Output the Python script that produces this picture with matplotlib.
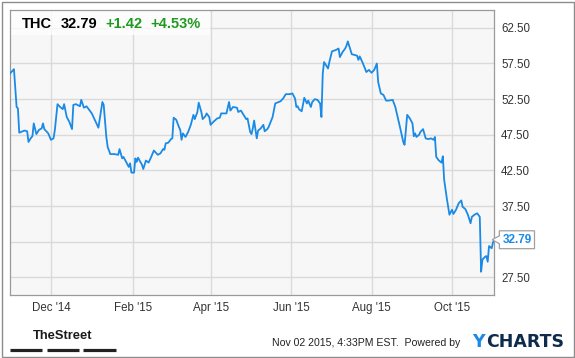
import matplotlib
matplotlib.use('Agg')
import matplotlib.pyplot as plt
from matplotlib.patches import Rectangle
from matplotlib.lines import Line2D
from matplotlib.path import Path
import pandas as pd

plt.rcParams['font.family'] = ['Liberation Sans', 'DejaVu Sans']

ticker = 'THC'
last_price = '32.79'
change = '+1.42'
change_pct = '+4.53%'
stamp = 'Nov 02 2015, 4:33PM EST.  Powered by'

# daily closes
dates = [
    '2014-10-31', '2014-11-03', '2014-11-05', '2014-11-06', '2014-11-07', '2014-11-11', '2014-11-13',
    '2014-11-14', '2014-11-16', '2014-11-17', '2014-11-18', '2014-11-20', '2014-11-22', '2014-11-24',
    '2014-11-25', '2014-11-26', '2014-11-29', '2014-12-01', '2014-12-03', '2014-12-04', '2014-12-06',
    '2014-12-08', '2014-12-10', '2014-12-11', '2014-12-13', '2014-12-15', '2014-12-17', '2014-12-18',
    '2014-12-20', '2014-12-23', '2014-12-24', '2014-12-26', '2014-12-28', '2014-12-30', '2015-01-01',
    '2015-01-03', '2015-01-06', '2015-01-09', '2015-01-10', '2015-01-12', '2015-01-13', '2015-01-15',
    '2015-01-18', '2015-01-21', '2015-01-22', '2015-01-24', '2015-01-25', '2015-01-27', '2015-01-29',
    '2015-01-30', '2015-01-31', '2015-02-02', '2015-02-03', '2015-02-04', '2015-02-05', '2015-02-08',
    '2015-02-09', '2015-02-11', '2015-02-13', '2015-02-15', '2015-02-17', '2015-02-20', '2015-02-22',
    '2015-02-24', '2015-02-25', '2015-02-26', '2015-02-28', '2015-03-02', '2015-03-03', '2015-03-04',
    '2015-03-06', '2015-03-08', '2015-03-09', '2015-03-10', '2015-03-11', '2015-03-13', '2015-03-15',
    '2015-03-17', '2015-03-19', '2015-03-20', '2015-03-22', '2015-03-23', '2015-03-25', '2015-03-26',
    '2015-03-28', '2015-03-29', '2015-03-31', '2015-04-01', '2015-04-03', '2015-04-06', '2015-04-08',
    '2015-04-09', '2015-04-13', '2015-04-15', '2015-04-16', '2015-04-18', '2015-04-21', '2015-04-22',
    '2015-04-24', '2015-04-26', '2015-04-28', '2015-04-29', '2015-05-01', '2015-05-02', '2015-05-03',
    '2015-05-04', '2015-05-06', '2015-05-07', '2015-05-09', '2015-05-11', '2015-05-12', '2015-05-14',
    '2015-05-15', '2015-05-18', '2015-05-20', '2015-05-24', '2015-05-26', '2015-05-28', '2015-05-31',
    '2015-06-02', '2015-06-04', '2015-06-05', '2015-06-06', '2015-06-07', '2015-06-09', '2015-06-10',
    '2015-06-11', '2015-06-13', '2015-06-14', '2015-06-16', '2015-06-17', '2015-06-19', '2015-06-21',
    '2015-06-23', '2015-06-24', '2015-06-25', '2015-06-26', '2015-06-28', '2015-06-29', '2015-06-30',
    '2015-07-02', '2015-07-05', '2015-07-07', '2015-07-08', '2015-07-10', '2015-07-12', '2015-07-13',
    '2015-07-14', '2015-07-16', '2015-07-17', '2015-07-19', '2015-07-21', '2015-07-22', '2015-07-23',
    '2015-07-25', '2015-07-27', '2015-07-28', '2015-07-30', '2015-08-01', '2015-08-03', '2015-08-05',
    '2015-08-06', '2015-08-08', '2015-08-10', '2015-08-12', '2015-08-14', '2015-08-17', '2015-08-19',
    '2015-08-21', '2015-08-23', '2015-08-25', '2015-08-26', '2015-08-28', '2015-08-30', '2015-09-01',
    '2015-09-02', '2015-09-03', '2015-09-04', '2015-09-06', '2015-09-07', '2015-09-09', '2015-09-11',
    '2015-09-13', '2015-09-15', '2015-09-17', '2015-09-18', '2015-09-19', '2015-09-21', '2015-09-23',
    '2015-09-24', '2015-09-25', '2015-09-27', '2015-09-29', '2015-10-01', '2015-10-02', '2015-10-04',
    '2015-10-06', '2015-10-08', '2015-10-09', '2015-10-11', '2015-10-13', '2015-10-15', '2015-10-16',
    '2015-10-18', '2015-10-20', '2015-10-22', '2015-10-23', '2015-10-24', '2015-10-26', '2015-10-27',
    '2015-10-28', '2015-10-29', '2015-10-31', '2015-11-01', '2015-11-02',
]
prices = [
    56.1, 56.7, 51.4, 51.2, 47.8, 48.1, 48.0,
    46.5, 47.1, 47.3, 49.1, 47.6, 48.2, 48.4,
    49.1, 48.3, 47.7, 46.8, 47.0, 48.2, 51.8,
    51.4, 51.1, 51.8, 50.0, 49.3, 48.3, 51.7,
    51.8, 51.5, 52.4, 51.3, 51.5, 51.0, 50.5,
    49.7, 48.5, 52.1, 51.7, 47.2, 45.8, 44.8,
    44.8, 44.7, 45.5, 44.2, 44.4, 43.7, 43.0,
    43.5, 42.2, 42.2, 44.2, 43.7, 44.3, 43.3,
    42.7, 43.9, 43.6, 44.4, 45.3, 44.7, 44.9,
    45.5, 45.4, 46.3, 46.4, 46.9, 47.0, 49.9,
    49.6, 48.6, 48.2, 46.8, 47.7, 47.2, 47.9,
    48.9, 50.3, 49.7, 50.7, 52.0, 50.7, 49.7,
    50.1, 50.5, 50.0, 48.9, 49.3, 49.8, 49.9,
    50.5, 50.5, 52.1, 50.9, 51.4, 51.3, 50.7,
    50.9, 50.3, 49.7, 49.8, 47.9, 47.6, 48.4,
    49.5, 47.0, 48.1, 48.4, 48.9, 48.0, 48.3,
    48.6, 50.0, 51.9, 52.2, 52.6, 53.2, 53.2,
    53.3, 52.6, 51.4, 51.5, 51.1, 50.8, 51.7,
    52.7, 51.9, 52.3, 51.4, 52.1, 52.5, 52.4,
    51.9, 50.0, 56.1, 57.7, 57.1, 56.8, 57.7,
    59.2, 59.4, 59.6, 58.4, 59.1, 59.6, 60.0,
    60.6, 59.4, 58.8, 58.7, 58.6, 58.0, 58.5,
    57.7, 56.8, 56.3, 56.6, 56.2, 56.6, 57.5,
    54.9, 53.3, 53.1, 52.3, 52.3, 52.4, 51.4,
    49.8, 48.2, 46.5, 46.1, 50.3, 49.8, 49.1,
    47.3, 47.7, 47.2, 47.5, 47.9, 48.3, 47.0,
    46.9, 47.0, 46.8, 47.2, 44.4, 43.9, 43.6,
    44.5, 41.2, 38.6, 36.3, 37.0, 36.4, 37.0,
    37.9, 38.3, 37.4, 37.1, 36.3, 35.1, 36.0,
    36.3, 36.5, 36.0, 28.3, 30.0, 30.4, 30.5,
    29.7, 31.9, 31.6, 32.4, 32.79,
]

y_ticks = [27.5, 32.5, 37.5, 42.5, 47.5, 52.5, 57.5, 62.5]
x_ticks = ['2014-12-01', '2015-02-01', '2015-04-01', '2015-06-01', '2015-08-01', '2015-10-01']
x_tick_labels = ["Dec '14", "Feb '15", "Apr '15", "Jun '15", "Aug '15", "Oct '15"]

LINE = '#1a8ae6'
GREEN = '#1f9a1f'
W, H = 575, 358


def px(x, y):
    # pixel position -> figure fraction
    return x / W, 1 - y / H


def tag_box(x0, y0, width, height, mutation_size):
    # price tag: rectangle with a small notch pointing left
    pad = 0.25 * mutation_size
    x0, y0 = x0 - pad, y0 - pad
    width, height = width + 2 * pad, height + 2 * pad
    tip = height * 0.4
    verts = [(x0, y0), (x0 + width, y0), (x0 + width, y0 + height), (x0, y0 + height),
             (x0, y0 + height * 0.72), (x0 - tip, y0 + height / 2), (x0, y0 + height * 0.28),
             (x0, y0)]
    return Path(verts, closed=True)


dt = pd.to_datetime(dates)

fig = plt.figure(figsize=(W / 100, H / 100), dpi=100)
fig.patch.set_facecolor('white')

ax = fig.add_axes([10 / W, 1 - 295.3 / H, 484.3 / W, 285.3 / H])
ax.set_facecolor('#f7f7f7')
ax.set_axisbelow(True)
ax.grid(True, color='#dadada', linewidth=1)

ax.plot(dt, prices, color=LINE, linewidth=1.3, zorder=3)

ax.set_xlim(dt[0], dt[-1])
ax.set_ylim(25, 65)
ax.set_yticks(y_ticks)
# the price tag sits on top of the nearest tick label, so that one is hidden
ax.set_yticklabels(['' if abs(v - prices[-1]) < 2 else f'{v:.2f}' for v in y_ticks])
ax.set_xticks(pd.to_datetime(x_ticks))
ax.set_xticklabels(x_tick_labels)
ax.yaxis.tick_right()
ax.tick_params(length=0, labelsize=8.3, labelcolor='#333333')
ax.tick_params(axis='y', pad=5)
ax.tick_params(axis='x', pad=5)
for s in ax.spines.values():
    s.set_color('#9a9a9a')
    s.set_linewidth(0.9)

# whitish band behind the quote header
ax.add_patch(Rectangle((0, 0.912), 0.413, 0.088, transform=ax.transAxes,
                       facecolor='white', alpha=0.75, edgecolor='none', zorder=1))

# last price tag
ax.annotate(f'{prices[-1]:.2f}', xy=(dt[-1], prices[-1]), xytext=(8, 0),
            textcoords='offset pixels', ha='left', va='center', color=LINE,
            fontsize=8.5, fontweight='bold', annotation_clip=False,
            bbox=dict(boxstyle=tag_box, facecolor='white', edgecolor='#a0a0a0', linewidth=0.9))

# header
for txt, x, col in [(ticker, 22, 'black'), (last_price, 61, 'black'),
                    (change, 105, GREEN), (change_pct, 150, GREEN)]:
    fig.text(*px(x, 24), txt, color=col, fontsize=10.5, fontweight='bold', va='center', ha='left')

# outer frame
fig.add_artist(Rectangle(px(1.5, 356.5), 572 / W, 355 / H, transform=fig.transFigure,
                         facecolor='none', edgecolor='#8c8c8c', linewidth=1))

# footer
fig.text(*px(63, 336), 'TheStreet', fontsize=9.3, fontweight='bold', ha='center', va='center',
         color='#1a1a1a', fontstretch='condensed')
for x0, x1 in [(10, 42), (47, 79), (83, 116)]:
    fig.add_artist(Line2D([x0 / W, x1 / W], [1 - 349.5 / H] * 2, transform=fig.transFigure,
                          color='#222222', linewidth=2.3, solid_capstyle='butt'))

fig.text(*px(460, 343), stamp, fontsize=7.6, ha='right', va='center', color='#222222')

charts = fig.text(*px(564, 342), 'CHARTS', fontsize=12.5, fontweight='bold', ha='right',
                  va='center', color='#0d2b4a', family='DejaVu Sans')
fig.canvas.draw()
bb = charts.get_window_extent()
fig.text((bb.x0 - 1) / W, 1 - 342 / H, 'Y', fontsize=12.5, fontweight='bold', ha='right',
         va='center', color='#1a8ae6', family='DejaVu Sans')

fig.savefig('out.png', dpi=100, facecolor='white')
